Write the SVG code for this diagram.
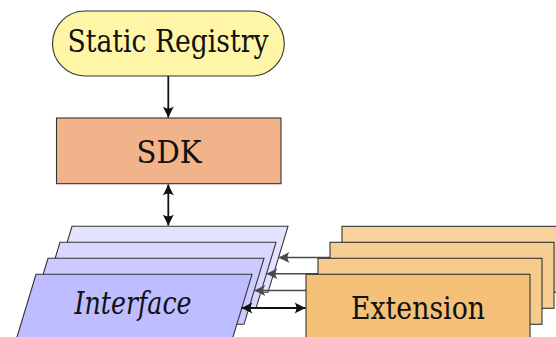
<svg xmlns="http://www.w3.org/2000/svg" width="556" height="337" viewBox="0 0 556 337">
<defs>
<style>
.node{stroke:#333;stroke-width:1.1}
.lbl{font-family:"DejaVu Serif",serif;font-size:31px;fill:#111;text-anchor:middle}
.it{font-style:italic}
.con{fill:none;stroke:#111;stroke-width:1.8}
.con.g{stroke:#4a4a4a;stroke-width:1.4}
</style>
<marker id="ah" markerUnits="userSpaceOnUse" markerWidth="14" markerHeight="14" viewBox="-12 -7 14 14" refX="0" refY="0" orient="auto-start-reverse">
<path d="M0 0 L-11 -5.5 Q-7 0 -11 5.5 Z" fill="#111"/>
</marker>
<marker id="ahg" markerUnits="userSpaceOnUse" markerWidth="14" markerHeight="14" viewBox="-12 -7 14 14" refX="0" refY="0" orient="auto-start-reverse">
<path d="M0 0 L-11 -5.5 Q-7 0 -11 5.5 Z" fill="#4a4a4a"/>
</marker>
</defs>
<rect width="556" height="337" fill="#fff"/>
<g id="registry">
<rect class="node" x="52.5" y="11" width="231.8" height="65" rx="32.5" fill="#fff5a6"/>
<text class="lbl" x="168" y="52" textLength="201" lengthAdjust="spacingAndGlyphs">Static Registry</text>
</g>
<g id="sdk">
<rect class="node" x="56.5" y="118" width="224.5" height="65.7" fill="#f0b38a"/>
<text class="lbl" x="169" y="163" textLength="65" lengthAdjust="spacingAndGlyphs">SDK</text>
</g>
<g id="interface">
<polygon class="node" points="72,226.3 288,226.3 268,292.3 52,292.3" fill="#e3e3ff"/>
<polygon class="node" points="60,242.3 276,242.3 256,308.3 40,308.3" fill="#d7d7ff"/>
<polygon class="node" points="48,258.3 264,258.3 244,324.3 28,324.3" fill="#cbcbff"/>
<polygon class="node" points="36,274.3 252,274.3 232,340.3 16,340.3" fill="#bdbdff"/>
<text class="lbl it" x="133" y="314" textLength="117" lengthAdjust="spacingAndGlyphs">Interface</text>
</g>
<g id="connectors">
<line class="con" x1="168.3" y1="76" x2="168.3" y2="117.5" marker-end="url(#ah)"/>
<line class="con" x1="168.3" y1="184.5" x2="168.3" y2="225.5" marker-start="url(#ah)" marker-end="url(#ah)"/>
<line class="con g" x1="342" y1="257.5" x2="278.5" y2="257.5" marker-end="url(#ahg)"/>
<line class="con g" x1="330" y1="273.8" x2="266.5" y2="273.8" marker-end="url(#ahg)"/>
<line class="con g" x1="318" y1="290.5" x2="254.3" y2="290.5" marker-end="url(#ahg)"/>
<line class="con" x1="241.5" y1="308" x2="305.5" y2="308" marker-start="url(#ah)" marker-end="url(#ah)"/>
</g>
<g id="extension">
<rect class="node" x="342" y="226.3" width="224" height="66" fill="#f8d29a"/>
<rect class="node" x="330" y="242.3" width="224" height="66" fill="#f7cf94"/>
<rect class="node" x="318" y="258.3" width="224" height="66" fill="#f6cb8c"/>
<rect class="node" x="306" y="274.3" width="224" height="66" fill="#f5c078"/>
<text class="lbl" x="418" y="318.5" textLength="134" lengthAdjust="spacingAndGlyphs">Extension</text>
</g>
</svg>
